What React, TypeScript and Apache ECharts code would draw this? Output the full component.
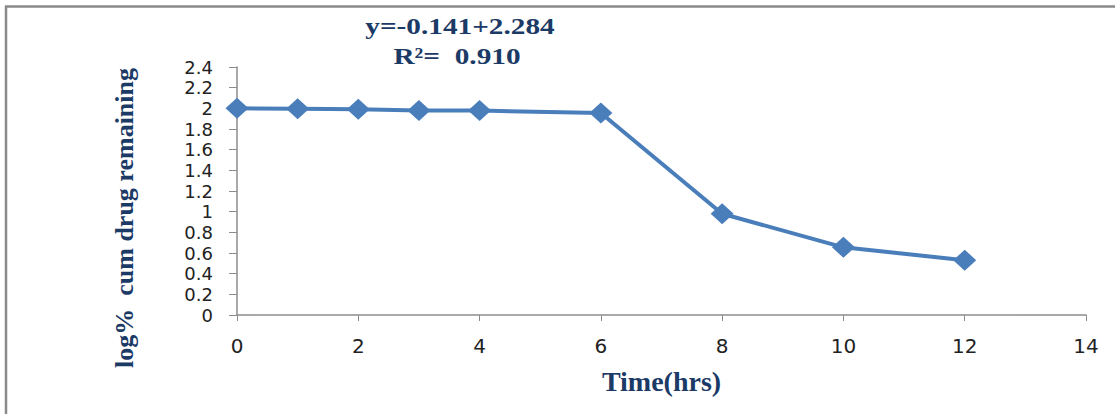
import React, { useEffect, useRef } from "react";
import * as echarts from "echarts";

const timeHrs = [0, 1, 2, 3, 4, 6, 8, 10, 12];
const logRemaining = [2.0, 1.995, 1.99, 1.98, 1.978, 1.955, 0.98, 0.655, 0.53];
const equationText = "y=-0.141+2.284";
const r2Text = "R²=  0.910";
const xTitle = "Time(hrs)";
const yTitle = "log%  cum drug remaining";

export default function App() {
  const ref = useRef<HTMLDivElement>(null);
  useEffect(() => {
    if (!ref.current) return;
    const chart = echarts.init(ref.current, null, { renderer: "svg" });
    const navy = "#1B3A66";
    const sans = "'DejaVu Sans', sans-serif";
    const serif = "'Liberation Serif', serif";
    chart.setOption({
      animation: false,
      backgroundColor: "#fff",
      grid: { left: 237, right: 29, top: 67, bottom: 99, containLabel: false },
      xAxis: {
        type: "value",
        min: 0,
        max: 14,
        interval: 2,
        name: xTitle,
        nameLocation: "middle",
        nameGap: 52,
        nameTextStyle: { fontFamily: serif, fontWeight: "bold", fontSize: 28, color: navy },
        axisLine: { lineStyle: { color: "#8c8c8c", width: 1.5 } },
        axisTick: { show: true, length: 6, lineStyle: { color: "#8c8c8c" } },
        axisLabel: { fontFamily: sans, fontSize: 20, color: "#222", margin: 21 },
        splitLine: { show: false },
      },
      yAxis: {
        type: "value",
        min: 0,
        max: 2.4,
        interval: 0.2,
        axisLine: { show: true, lineStyle: { color: "#8c8c8c", width: 1.5 } },
        axisTick: { show: true, length: 8, lineStyle: { color: "#8c8c8c" } },
        axisLabel: { fontFamily: sans, fontSize: 18, color: "#222", margin: 24, lineHeight: 20 },
        splitLine: { show: false },
      },
      graphic: [
        { type: "line", shape: { x1: 5, y1: 6.5, x2: 1115, y2: 6.5 }, style: { stroke: "#8a8a8a", lineWidth: 2.5 } },
        { type: "line", shape: { x1: 6, y1: 6, x2: 6, y2: 414 }, style: { stroke: "#8a8a8a", lineWidth: 2.5 } },
        {
          type: "text",
          x: 460,
          y: 26,
          scaleX: 1.22,
          style: { text: equationText, align: "center", verticalAlign: "middle", font: `bold 24px ${serif}`, fill: navy },
        },
        {
          type: "text",
          x: 457,
          y: 56,
          scaleX: 1.22,
          style: { text: r2Text, align: "center", verticalAlign: "middle", font: `bold 24px ${serif}`, fill: navy },
        },
        {
          type: "text",
          x: 124,
          y: 218,
          rotation: Math.PI / 2,
          style: { text: yTitle, align: "center", verticalAlign: "middle", font: `bold 26px ${serif}`, fill: navy },
        },
      ],
      series: [
        {
          type: "line",
          data: timeHrs.map((t, i) => [t, logRemaining[i]]),
          symbol: "diamond",
          symbolSize: [23, 21],
          lineStyle: { color: "#4A7EBB", width: 4 },
          itemStyle: { color: "#4A7EBB" },
        },
      ],
    });
    return () => chart.dispose();
  }, []);
  return <div ref={ref} style={{ position: "fixed", left: 0, top: 0, width: 1115, height: 414 }} />;
}
